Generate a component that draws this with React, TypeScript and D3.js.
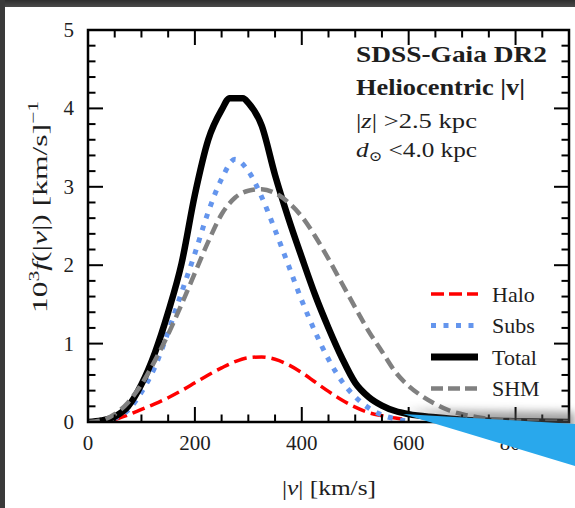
import React from "react";
import * as d3 from "d3";

const W = 575;
const H = 508;

const haloV = [50, 75, 100, 125, 150, 175, 200, 225, 250, 275, 300, 325, 350, 375, 400, 425, 450, 475, 500, 525, 550, 575, 600];
const haloF = [0.03, 0.09, 0.16, 0.23, 0.31, 0.4, 0.5, 0.6, 0.69, 0.77, 0.82, 0.83, 0.8, 0.73, 0.63, 0.51, 0.39, 0.28, 0.19, 0.12, 0.08, 0.05, 0.03];

const subsV = [25, 50, 75, 100, 125, 150, 175, 200, 225, 250, 275, 300, 325, 350, 375, 400, 425, 450, 475, 500, 525, 550, 575, 600];
const subsF = [0.01, 0.05, 0.15, 0.38, 0.7, 1.15, 1.65, 2.15, 2.68, 3.1, 3.35, 3.2, 2.87, 2.45, 2.0, 1.55, 1.15, 0.8, 0.52, 0.32, 0.18, 0.09, 0.04, 0.01];

const totalV = [0, 25, 50, 75, 100, 125, 150, 175, 200, 225, 250, 265, 290, 300, 325, 350, 375, 400, 425, 450, 475, 500, 525, 550, 575, 600, 650, 700, 800, 900];
const totalF = [0, 0.02, 0.07, 0.2, 0.48, 0.88, 1.4, 2.02, 2.9, 3.6, 3.98, 4.13, 4.13, 4.07, 3.78, 3.15, 2.6, 2.1, 1.62, 1.2, 0.82, 0.5, 0.32, 0.21, 0.14, 0.1, 0.06, 0.03, 0.01, 0];

const shmV = [0, 25, 50, 75, 100, 125, 150, 175, 200, 225, 250, 275, 300, 325, 350, 375, 400, 425, 450, 475, 500, 525, 550, 575, 600, 625, 650, 675, 700, 750, 800, 850, 900];
const shmF = [0, 0.02, 0.1, 0.25, 0.48, 0.78, 1.12, 1.5, 1.9, 2.3, 2.65, 2.86, 2.95, 2.97, 2.92, 2.8, 2.62, 2.37, 2.08, 1.77, 1.46, 1.16, 0.9, 0.64, 0.46, 0.33, 0.23, 0.15, 0.1, 0.04, 0.015, 0.005, 0];

const xTicks = [0, 200, 400, 600, 800];
const yTicks = [0, 1, 2, 3, 4, 5];

const legendItems = [
  { label: "Halo", color: "#ff0000", width: 3.5, dash: "13 5" },
  { label: "Subs", color: "#6495ed", width: 5, dash: "5 7.5" },
  { label: "Total", color: "#000000", width: 7, dash: "" },
  { label: "SHM", color: "#808080", width: 4.5, dash: "12 5" },
];

const FONT = "Liberation Serif, DejaVu Serif, serif";
const TXT = "#1e1e1e";

export default function App() {
  const left = 88, right = 569, top = 30, bottom = 422;
  const x = d3.scaleLinear().domain([0, 900]).range([left, right]);
  const y = d3.scaleLinear().domain([0, 5]).range([bottom, top]);

  const line = d3
    .line<[number, number]>()
    .x((d) => x(d[0]))
    .y((d) => y(d[1]))
    .curve(d3.curveMonotoneX);

  const mk = (vs: number[], fs: number[]) => line(vs.map((v, i) => [v, fs[i]] as [number, number])) || "";

  const xMinor = d3.range(0, 901, 50);
  const yMinor = d3.range(0, 5.001, 0.2);

  const tickEls: React.ReactNode[] = [];
  xMinor.forEach((v, i) => {
    const major = Math.abs(v % 200) < 1e-6;
    const L = major ? 15 : 7.5;
    const px = x(v);
    tickEls.push(<line key={"xb" + i} x1={px} x2={px} y1={bottom} y2={bottom - L} stroke="#000" strokeWidth={2} />);
    tickEls.push(<line key={"xt" + i} x1={px} x2={px} y1={top} y2={top + L} stroke="#000" strokeWidth={2} />);
  });
  yMinor.forEach((v, i) => {
    const major = Math.abs(v - Math.round(v)) < 1e-6;
    const L = major ? 15 : 7.5;
    const py = y(v);
    tickEls.push(<line key={"yl" + i} x1={left} x2={left + L} y1={py} y2={py} stroke="#000" strokeWidth={2} />);
    tickEls.push(<line key={"yr" + i} x1={right} x2={right - L} y1={py} y2={py} stroke="#000" strokeWidth={2} />);
  });

  const legY0 = 294;
  const legDy = 31.5;
  const ts = { fontFamily: FONT };

  return (
    <svg width={W} height={H} style={{ position: "absolute", left: 0, top: 0, background: "#fff", fontFamily: FONT }}>
      <defs>
        <clipPath id="plotclip">
          <rect x={left} y={top} width={right - left} height={bottom - top} />
        </clipPath>
        <filter id="blurf" x="-20%" y="-50%" width="140%" height="200%">
          <feGaussianBlur stdDeviation="4" />
        </filter>
        <linearGradient id="topband" x1="0" y1="0" x2="0" y2="1">
          <stop offset="0" stopColor="#2e2e2e" />
          <stop offset="1" stopColor="#4a4a4a" />
        </linearGradient>
      </defs>
      <rect x={0} y={0} width={W} height={H} fill="#fff" />

      {/* curves */}
      <g clipPath="url(#plotclip)" fill="none">
        <path d={mk(haloV, haloF)} stroke="#ff0000" strokeWidth={3.5} strokeDasharray="13 6" />
        <path d={mk(subsV, subsF)} stroke="#6495ed" strokeWidth={5} strokeDasharray="5 7.5" />
        <path d={mk(totalV, totalF)} stroke="#000" strokeWidth={6.5} strokeLinejoin="round" />
        <path d={mk(shmV, shmF)} stroke="#808080" strokeWidth={4.5} strokeDasharray="12 6" />
      </g>

      {/* frame and ticks */}
      {tickEls}
      <rect x={left} y={top} width={right - left} height={bottom - top} fill="none" stroke="#000" strokeWidth={2.5} />

      {/* tick labels */}
      {xTicks.map((v) => (
        <text key={"xl" + v} x={x(v)} y={450} textAnchor="middle" fontSize={21} fill={TXT} style={ts}>
          {v}
        </text>
      ))}
      {yTicks.map((v) => (
        <text key={"yl" + v} x={74} y={y(v) + 7} textAnchor="end" fontSize={21} fill={TXT} style={ts}>
          {v}
        </text>
      ))}

      {/* axis labels */}
      <text x={282} y={495} fontSize={21} fill={TXT} style={ts} textLength={94} lengthAdjust="spacingAndGlyphs">
        |<tspan fontStyle="italic">v</tspan>| [km/s]
      </text>
      <text transform="translate(47,313) rotate(-90)" fontSize={22} fill={TXT} style={ts} textLength={212} lengthAdjust="spacingAndGlyphs">
        10<tspan fontSize={15} dy={-8}>3</tspan>
        <tspan dy={8} fontStyle="italic">f</tspan>(|<tspan fontStyle="italic">v</tspan>|) [km/s]
        <tspan fontSize={15} dy={-9}>−1</tspan>
      </text>

      {/* annotation */}
      <text x={356} y={62} fontSize={22.5} fontWeight="bold" fill={TXT} style={ts} textLength={191} lengthAdjust="spacingAndGlyphs">
        SDSS-Gaia DR2
      </text>
      <text x={356} y={95} fontSize={22.5} fontWeight="bold" fill={TXT} style={ts} textLength={169} lengthAdjust="spacingAndGlyphs">
        Heliocentric |v|
      </text>
      <text x={356} y={128} fontSize={21.5} fill={TXT} style={ts} textLength={121} lengthAdjust="spacingAndGlyphs">
        |<tspan fontStyle="italic">z</tspan>| &gt;2.5 kpc
      </text>
      <text x={356} y={157} fontSize={21.5} fill={TXT} style={ts} textLength={121} lengthAdjust="spacingAndGlyphs">
        <tspan fontStyle="italic">d</tspan>
        <tspan fontSize={14} dy={4}>⊙</tspan>
        <tspan dy={-4}> &lt;4.0 kpc</tspan>
      </text>

      {/* legend */}
      {legendItems.map((it, i) => {
        const ly = legY0 + i * legDy;
        return (
          <g key={it.label}>
            <line x1={431} x2={478} y1={ly} y2={ly} stroke={it.color} strokeWidth={it.width} strokeDasharray={it.dash || undefined} />
            <text x={492} y={ly + 7.5} fontSize={22} fill={TXT} style={ts}>
              {it.label}
            </text>
          </g>
        );
      })}

      {/* overlay wedge with shadow */}
      <polygon points="405,410 575,412 575,440" fill="#555" opacity={0.55} filter="url(#blurf)" />
      <polygon points="403,414 575,424 575,466" fill="#29a8ec" />

      {/* screenshot border */}
      <rect x={0} y={0} width={W} height={7} fill="url(#topband)" />
      <rect x={0} y={0} width={5} height={H} fill="#3a3a3a" />
    </svg>
  );
}
